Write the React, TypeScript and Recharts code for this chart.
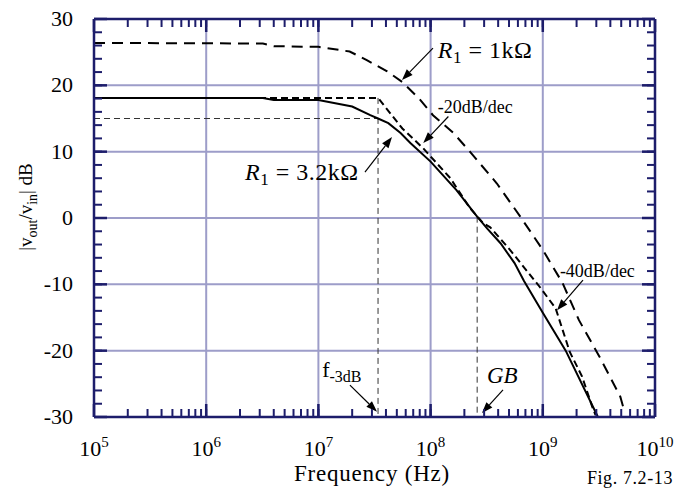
import { LineChart, Line, XAxis, YAxis, CartesianGrid, ReferenceLine, ReferenceDot } from 'recharts'

// frequency (Hz) / gain (dB)
const solidFreq = [1e5, 3.2e6, 4.0e6, 1e7, 2.0e7, 2.9e7, 3.4e7, 4.2e7, 5.4e7, 6.6e7, 1e8, 1.7e8, 2.6e8, 3.2e8, 4.2e8, 5.6e8, 6.8e8, 1e9, 1.6e9, 3.1e9]
const solidDb = [18.1, 18.1, 17.8, 17.8, 16.8, 15.5, 15.0, 14.3, 12.8, 11.3, 8.5, 4.2, 0.2, -1.6, -3.8, -6.8, -9.5, -14.3, -20, -30]

const asymFreq = [1e5, 3.4e7, 5.6e7, 8.6e7, 1.5e8, 2.24e8, 2.95e8, 3.4e8, 5.1e8, 9.4e8, 1.3e9, 1.74e9, 2.24e9, 2.75e9, 2.95e9]
const asymDb = [18.1, 18.1, 13.5, 10.5, 6.0, 1.5, -0.8, -1.4, -4.8, -10.4, -13.6, -20.2, -23.9, -28.4, -29.7]

const r1kFreq = [1e5, 3.2e6, 4.0e6, 1e7, 1.9e7, 2.7e7, 4.1e7, 5.6e7, 7.9e7, 1.05e8, 1.6e8, 2.24e8, 3.9e8, 6.3e8, 1e9, 1.5e9, 2.1e9, 3.2e9, 4.9e9, 5.25e9]
const r1kDb = [26.4, 26.3, 25.9, 25.8, 25.1, 23.8, 22.1, 20.5, 18.0, 15.5, 12.8, 10.0, 5.2, 0.2, -4.8, -9.8, -15.4, -20.9, -26.9, -28.7]

const f3dB = 3.4e7
const fGB = 2.6e8
const gain3dB = 15

const decades = [1e5, 1e6, 1e7, 1e8, 1e9, 1e10]
const minorSteps = [2, 3, 4, 5, 6, 7, 8, 9]
const yMajor = [-30, -20, -10, 0, 10, 20, 30]
const yMinor = [-28, -26, -24, -22, -18, -16, -14, -12, -8, -6, -4, -2, 2, 4, 6, 8, 12, 14, 16, 18, 22, 24, 26, 28]

const xMinor = decades.slice(0, -1).flatMap(d => minorSteps.map(m => m * d))
const xTicks = [...decades, ...xMinor].sort((a, b) => a - b)
const yTicks = [...yMajor, ...yMinor].sort((a, b) => a - b)

const zip = (fs: number[], ds: number[]) => fs.map((f, i) => ({ f, db: ds[i] }))
const solidData = zip(solidFreq, solidDb)
const asymData = zip(asymFreq, asymDb)
const r1kData = zip(r1kFreq, r1kDb)

const NAVY = '#1d1d6b'
const GRID = '#9d9dc9'
const FONT = '"Liberation Serif", "Times New Roman", serif'
const TICK_LINE = { stroke: NAVY, strokeWidth: 2 }

const isDecade = (v: number) => decades.includes(v)

function BottomLabel({ x, y, payload }: any) {
  if (!isDecade(payload.value)) return <g />
  return (
    <text x={x} y={y + 39} textAnchor="middle" fontFamily={FONT} fontSize={22} fill="#000">
      10<tspan dy={-9} fontSize={15}>{Math.round(Math.log10(payload.value))}</tspan>
    </text>
  )
}

function LeftLabel({ x, y, payload }: any) {
  if (!yMajor.includes(payload.value)) return <g />
  return (
    <text x={x - 21} y={y + 7} textAnchor="end" fontFamily={FONT} fontSize={22} fill="#000">
      {payload.value}
    </text>
  )
}

const NoLabel = () => <g />

// longer marks for the decade / 10 dB ticks
const VTick = (len: number) => ({ x1, y1, y2 }: any) => {
  const top = Math.min(y1, y2)
  const bot = Math.max(y1, y2)
  return (
    <g>
      <line x1={x1} x2={x1} y1={top} y2={top + len} stroke={NAVY} strokeWidth={2.5} />
      <line x1={x1} x2={x1} y1={bot} y2={bot - len} stroke={NAVY} strokeWidth={2.5} />
    </g>
  )
}

const HTick = (len: number) => ({ x1, x2, y1 }: any) => {
  const l = Math.min(x1, x2)
  const r = Math.max(x1, x2)
  return (
    <g>
      <line x1={l} x2={l + len} y1={y1} y2={y1} stroke={NAVY} strokeWidth={2.5} />
      <line x1={r} x2={r - len} y1={y1} y2={y1} stroke={NAVY} strokeWidth={2.5} />
    </g>
  )
}

function Arrow({ x1, y1, x2, y2 }: any) {
  const a = Math.atan2(y2 - y1, x2 - x1)
  const L = 11
  const W = 4
  const bx = x2 - L * Math.cos(a)
  const by = y2 - L * Math.sin(a)
  const px = -Math.sin(a) * W
  const py = Math.cos(a) * W
  return (
    <g>
      <line x1={x1} y1={y1} x2={bx} y2={by} stroke="#000" strokeWidth={1.2} />
      <polygon points={`${x2},${y2} ${bx + px},${by + py} ${bx - px},${by - py}`} fill="#000" />
    </g>
  )
}

const R1Label = (value: string) => (p: any) => (
  <text x={p.cx} y={p.cy} fontFamily={FONT} fontSize={24} fill="#000" letterSpacing={0.5}>
    <tspan fontStyle="italic">R</tspan>
    <tspan fontSize={17} dy={5}>1</tspan>
    <tspan dy={-5}>{` = ${value}`}</tspan>
  </text>
)

const PlainLabel = (value: string, size: number, italic = false) => (p: any) => (
  <text x={p.cx} y={p.cy} fontFamily={FONT} fontSize={size} fontStyle={italic ? 'italic' : 'normal'} fill="#000">
    {value}
  </text>
)

const F3Label = (p: any) => (
  <text x={p.cx} y={p.cy} fontFamily={FONT} fontSize={22} fill="#000">
    f<tspan fontSize={16} dy={5}>-3dB</tspan>
  </text>
)

const YTitle = () => (
  <text x={32} y={207} transform="rotate(-90 32 207)" textAnchor="middle" fontFamily={FONT} fontSize={19} fill="#000">
    |v<tspan fontSize={14} dy={5}>out</tspan>
    <tspan dy={-5}>/v</tspan>
    <tspan fontSize={14} dy={5}>in</tspan>
    <tspan dy={-5}>| dB</tspan>
  </text>
)

const XTitle = ({ viewBox }: any) => (
  <g>
    <text x={372} y={viewBox.y + 64} textAnchor="middle" fontFamily={FONT} fontSize={23} letterSpacing={0.8} fill="#000">
      Frequency (Hz)
    </text>
    <text x={673} y={viewBox.y + 67} textAnchor="end" fontFamily={FONT} fontSize={18} letterSpacing={0.6} fill="#000">
      Fig. 7.2-13
    </text>
  </g>
)

export default function App() {
  return (
    <div style={{ position: 'absolute', left: 0, top: 0, width: 677, height: 491, background: '#fff' }}>
      <LineChart width={677} height={491} margin={{ top: 0, right: 0, bottom: 0, left: 0 }}>
        <CartesianGrid
          stroke={GRID}
          strokeWidth={2}
          verticalValues={[1e6, 1e7, 1e8, 1e9]}
          horizontalValues={[-20, -10, 0, 10, 20]}
        />
        <XAxis
          dataKey="f"
          type="number"
          scale="log"
          domain={[1e5, 1e10]}
          ticks={xTicks}
          interval={0}
          height={74}
          tickSize={-8}
          tickMargin={8}
          tickLine={TICK_LINE}
          axisLine={{ stroke: NAVY, strokeWidth: 2.5 }}
          tick={<BottomLabel />}
          allowDataOverflow
          label={XTitle}
        />
        <XAxis
          xAxisId="top"
          orientation="top"
          dataKey="f"
          type="number"
          scale="log"
          domain={[1e5, 1e10]}
          ticks={xTicks}
          interval={0}
          height={19}
          tickSize={-8}
          tickMargin={0}
          tickLine={TICK_LINE}
          tick={<NoLabel />}
          axisLine={{ stroke: NAVY, strokeWidth: 2.5 }}
          allowDataOverflow
        />
        <YAxis
          type="number"
          domain={[-30, 30]}
          ticks={yTicks}
          interval={0}
          width={94}
          tickSize={-8}
          tickMargin={8}
          tickLine={TICK_LINE}
          axisLine={{ stroke: NAVY, strokeWidth: 2.5 }}
          tick={<LeftLabel />}
          allowDataOverflow
          label={YTitle}
        />
        <YAxis
          yAxisId="right"
          orientation="right"
          type="number"
          domain={[-30, 30]}
          ticks={yTicks}
          interval={0}
          width={22}
          tickSize={-8}
          tickMargin={0}
          tickLine={TICK_LINE}
          tick={<NoLabel />}
          axisLine={{ stroke: NAVY, strokeWidth: 2.5 }}
          allowDataOverflow
        />

        {decades.map(v => <ReferenceLine key={`xM${v}`} x={v} ifOverflow="visible" shape={VTick(13)} />)}
        {yMajor.map(v => <ReferenceLine key={`yM${v}`} y={v} ifOverflow="visible" shape={HTick(13)} />)}

        <ReferenceLine segment={[{ x: 1e5, y: gain3dB }, { x: f3dB, y: gain3dB }]} stroke="#333" strokeWidth={1} strokeDasharray="6 4" />
        <ReferenceLine segment={[{ x: f3dB, y: 18.1 }, { x: f3dB, y: -30 }]} stroke="#333" strokeWidth={1} strokeDasharray="6 4" />
        <ReferenceLine segment={[{ x: fGB, y: 0.2 }, { x: fGB, y: -30 }]} stroke="#333" strokeWidth={1} strokeDasharray="6 4" />

        <Line data={r1kData} dataKey="db" type="linear" stroke="#000" strokeWidth={2} strokeDasharray="11 7" dot={false} isAnimationActive={false} />
        <Line data={asymData} dataKey="db" type="linear" stroke="#000" strokeWidth={2} strokeDasharray="7 4" dot={false} isAnimationActive={false} />
        <Line data={solidData} dataKey="db" type="linear" stroke="#000" strokeWidth={2} dot={false} isAnimationActive={false} />

        <ReferenceLine segment={[{ x: 1.05e8, y: 25.6 }, { x: 5.56e7, y: 20.8 }]} shape={Arrow} />
        <ReferenceLine segment={[{ x: 1.44e8, y: 15.3 }, { x: 8.6e7, y: 11.3 }]} shape={Arrow} />
        <ReferenceLine segment={[{ x: 2.6e7, y: 6.9 }, { x: 4.53e7, y: 12.2 }]} shape={Arrow} />
        <ReferenceLine segment={[{ x: 2.28e9, y: -9.35 }, { x: 1.34e9, y: -13.9 }]} shape={Arrow} />
        <ReferenceLine segment={[{ x: 1.91e7, y: -25.2 }, { x: 3.33e7, y: -29.2 }]} shape={Arrow} />
        <ReferenceLine segment={[{ x: 4.42e8, y: -25.9 }, { x: 2.87e8, y: -29.4 }]} shape={Arrow} />

        <ReferenceDot x={1.16e8} y={24.1} r={1} shape={R1Label('1kΩ')} />
        <ReferenceDot x={2.22e6} y={5.7} r={1} shape={R1Label('3.2kΩ')} />
        <ReferenceDot x={1.16e8} y={15.8} r={1} shape={PlainLabel('-20dB/dec', 18)} />
        <ReferenceDot x={1.42e9} y={-8.9} r={1} shape={PlainLabel('-40dB/dec', 18)} />
        <ReferenceDot x={1.08e7} y={-24.0} r={1} shape={F3Label} />
        <ReferenceDot x={3.18e8} y={-24.9} r={1} shape={PlainLabel('GB', 23, true)} />
      </LineChart>
    </div>
  )
}
